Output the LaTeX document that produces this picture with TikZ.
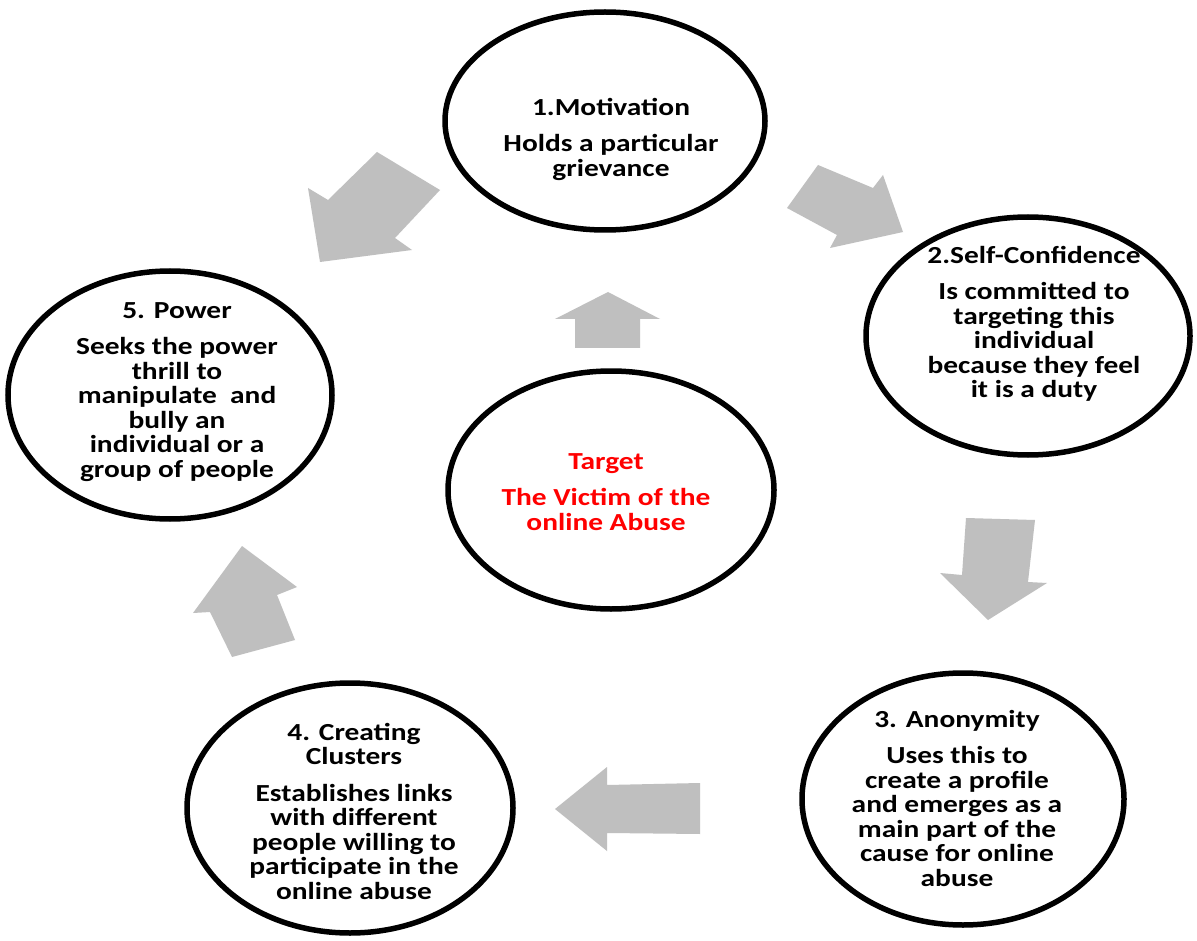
\documentclass[tikz,border=0pt]{standalone}
\usepackage{fontspec}
\setmainfont{Carlito}[FakeStretch=1.2]
\usetikzlibrary{shapes.geometric}
\tikzset{
  bubble/.style={ellipse, draw=black, line width=5.5pt, fill=white, inner sep=0pt},
  btext/.style={align=center, font=\fontsize{24.5}{24.5}\selectfont\bfseries, text=black, inner sep=0pt},
  blockarrow/.style={fill=gray!50, draw=none},
}
\begin{document}
\begin{tikzpicture}[x=1pt,y=-1pt]
\useasboundingbox[fill=white] (0,0) rectangle (1197,941);

% block arrows
\fill[blockarrow] (377,152) -- (440,190) -- (395,238) -- (412,250) -- (320,262) -- (308,188) -- (328,200) -- cycle;
\fill[blockarrow] (818,165) -- (873,188) -- (883,175) -- (903,232) -- (830,248) -- (837,235) -- (787,208) -- cycle;
\fill[blockarrow] (608,292) -- (660,319) -- (640,319) -- (640,348) -- (575,348) -- (575,319) -- (555,319) -- cycle;
\fill[blockarrow] (966,518) -- (1035,520) -- (1028,582) -- (1047,583) -- (988,620) -- (940,573) -- (962,575) -- cycle;
\fill[blockarrow] (555,809) -- (607,767) -- (607,785) -- (700,783) -- (700,834) -- (607,833) -- (607,851) -- cycle;
\fill[blockarrow] (242,546) -- (297,587) -- (277,595) -- (295,640) -- (232,657) -- (210,612) -- (193,613) -- cycle;

% ellipses
\node[bubble, minimum width=320pt, minimum height=218pt] (e1) at (605,121) {};
\node[bubble, minimum width=324pt, minimum height=238pt] (e2) at (1028,336) {};
\node[bubble, minimum width=322pt, minimum height=252pt] (e3) at (963,799) {};
\node[bubble, minimum width=326pt, minimum height=250pt] (e4) at (350,808) {};
\node[bubble, minimum width=324pt, minimum height=248pt] (e5) at (170,395) {};
\node[bubble, minimum width=326pt, minimum height=238pt] (et) at (611,490) {};

% texts
\node[btext] (t1) at (611,139) {1.Motivation\\[12pt]Holds a particular\\grievance};
\node[btext] (t2) at (1034,324) {2.Self-Confidence\\[12pt]Is committed to\\targeting this\\individual\\because they feel\\it is a duty};
\node[btext] (t3) at (957,798) {3. Anonymity\\[12pt]Uses this to\\create a profile\\and emerges as a\\main part of the\\cause for online\\abuse};
\node[btext] (t4) at (354,811) {4. Creating\\Clusters\\[12pt]Establishes links\\with different\\people willing to\\participate in the\\online abuse};
\node[btext] (t5) at (177,392) {5. Power\\[12pt]Seeks the power\\thrill to\\manipulate\ \ and\\bully an\\individual or a\\group of people};
\node[btext, text=red] (tt) at (606,492) {Target\\[12pt]The Victim of the\\online Abuse};
\end{tikzpicture}
\end{document}
